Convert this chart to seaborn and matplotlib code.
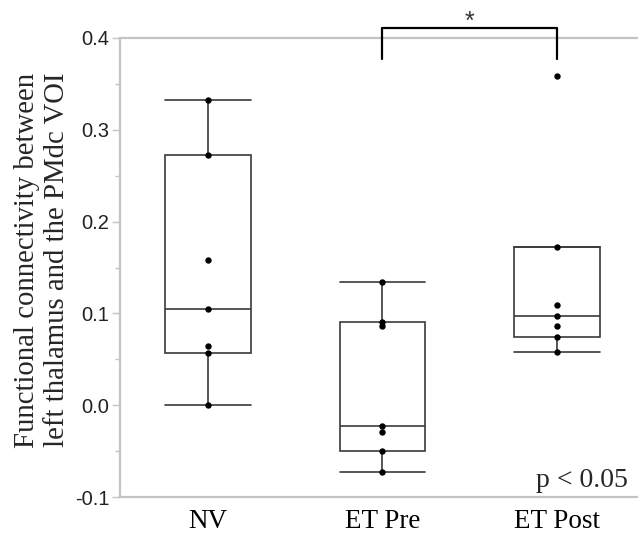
import numpy as np
import pandas as pd
import matplotlib
matplotlib.use("Agg")
import matplotlib.pyplot as plt
import seaborn as sns
from matplotlib.ticker import MultipleLocator

# values
groups = ["NV", "ET Pre", "ET Post"]
nv = [0.000, 0.057, 0.065, 0.105, 0.158, 0.272, 0.332]
et_pre = [-0.073, -0.050, -0.029, -0.022, 0.086, 0.091, 0.134]
et_post = [0.058, 0.074, 0.086, 0.097, 0.109, 0.172, 0.359]

df = pd.DataFrame({
    "group": np.repeat(groups, [len(nv), len(et_pre), len(et_post)]),
    "fc": nv + et_pre + et_post,
})

sns.set_style("white")
serif = ["Liberation Serif", "DejaVu Serif"]
sans = ["Liberation Sans", "DejaVu Sans"]

fig = plt.figure(figsize=(6.38, 5.34), dpi=100)
ax = fig.add_axes([0.188, 0.069, 0.812, 0.86])

sns.stripplot(data=df, x="group", y="fc", order=groups, jitter=False,
              color="black", size=4.6, ax=ax, zorder=3)

# quartiles the JMP way ((n+1)p positions), whiskers at 1.5 IQR
stats = []
for g in groups:
    v = df.loc[df["group"] == g, "fc"].to_numpy()
    q1, med, q3 = np.percentile(v, [25, 50, 75], method="weibull")
    iqr = q3 - q1
    stats.append(dict(med=med, q1=q1, q3=q3,
                      whislo=v[v >= q1 - 1.5 * iqr].min(),
                      whishi=v[v <= q3 + 1.5 * iqr].max(),
                      fliers=[]))

line_kw = dict(color="#3a3a3a", linewidth=1.2)
ax.bxp(stats, positions=range(len(groups)), widths=0.49, capwidths=0.49,
       showfliers=False, patch_artist=True, manage_ticks=False,
       boxprops=dict(facecolor="white", edgecolor="#3a3a3a", linewidth=1.2),
       medianprops=line_kw, whiskerprops=line_kw, capprops=line_kw, zorder=2)

ax.set_xlim(-0.503, 2.463)
ax.set_ylim(-0.1, 0.4)
ax.yaxis.set_major_locator(MultipleLocator(0.1))
ax.yaxis.set_minor_locator(MultipleLocator(0.05))
ax.set_yticklabels([f"{t:.1f}" for t in ax.get_yticks()])
ax.set_xlabel("")
ax.set_ylabel("")

for side in ["left", "top", "bottom"]:
    ax.spines[side].set_color("#c4c4c4")
    ax.spines[side].set_linewidth(1.6)
ax.spines["right"].set_visible(False)

ax.tick_params(axis="y", which="major", left=True, length=6, width=1,
               color="#c4c4c4", pad=1.5)
ax.tick_params(axis="y", which="minor", left=True, length=3.5, width=1,
               color="#c4c4c4")
ax.tick_params(axis="x", bottom=False, pad=5)
for lab in ax.get_yticklabels():
    lab.set_family(sans)
    lab.set_fontsize(14.5)
    lab.set_color("#222222")
for lab in ax.get_xticklabels():
    lab.set_family(serif)
    lab.set_fontsize(19.5)
    lab.set_color("black")

fig.text(42 / 638, 1 - 260 / 534,
         "Functional connectivity between\nleft thalamus and the PMdc VOI",
         rotation=90, ha="center", va="center", family=serif, fontsize=20.7,
         linespacing=1.2)

# significance bracket between ET Pre and ET Post
ax.plot([1, 1, 2, 2], [0.377, 0.411, 0.411, 0.377], color="black",
        linewidth=1.6, clip_on=False, zorder=4)
ax.text(1.5, 0.4094, "*", ha="center", va="baseline", fontsize=18,
        family=sans, color="#333333")

ax.text(2.405, -0.089, "p < 0.05", ha="right", va="baseline",
        family=serif, fontsize=20)

fig.savefig("out.png", dpi=100)
